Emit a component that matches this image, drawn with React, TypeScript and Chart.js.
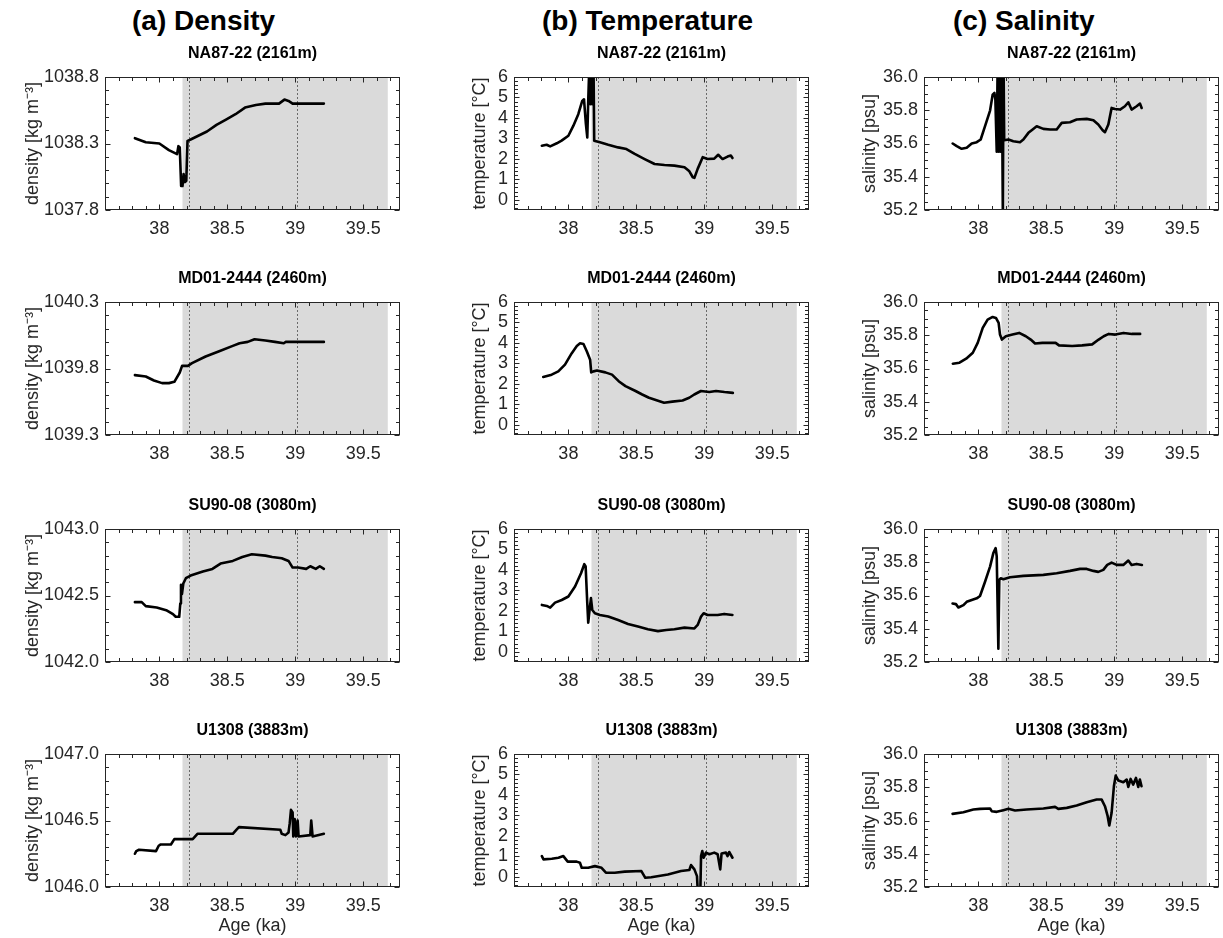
import React, { useEffect, useRef } from 'react';
import { Chart, registerables } from 'chart.js';

Chart.register(...registerables);

// ---------------- data ----------------
type Pt = [number, number];

const AGE_MIN = 37.6;
const AGE_MAX = 39.77;
const AGE_TICKS = [38, 38.5, 39, 39.5];
const SHADE_RANGE = [38.17, 39.68];
const EVENT_LINES = [38.22, 39.01];

const COLUMN_TITLES = ['(a) Density', '(b) Temperature', '(c) Salinity'];
const CORE_NAMES = ['NA87-22 (2161m)', 'MD01-2444 (2460m)', 'SU90-08 (3080m)', 'U1308 (3883m)'];

const DENSITY_TICKS = [
  [1037.8, 1038.3, 1038.8],
  [1039.3, 1039.8, 1040.3],
  [1042.0, 1042.5, 1043.0],
  [1046.0, 1046.5, 1047.0],
];
const TEMP_TICKS = [0, 1, 2, 3, 4, 5, 6];
const TEMP_RANGE = [-0.5, 6];
const SAL_TICKS = [35.2, 35.4, 35.6, 35.8, 36.0];

const naDensity: Pt[] = [
  [37.82, 1038.34], [37.9, 1038.31], [38.0, 1038.3], [38.07, 1038.25], [38.13, 1038.22],
  [38.14, 1038.28], [38.15, 1038.27], [38.16, 1037.98], [38.17, 1037.98], [38.178, 1038.07],
  [38.188, 1038.01], [38.198, 1038.02], [38.207, 1038.32], [38.23, 1038.33], [38.29, 1038.36],
  [38.35, 1038.39], [38.42, 1038.44], [38.49, 1038.48], [38.56, 1038.52], [38.63, 1038.57],
  [38.71, 1038.59], [38.78, 1038.6], [38.88, 1038.6], [38.92, 1038.63], [38.95, 1038.62],
  [38.98, 1038.6], [39.07, 1038.6], [39.21, 1038.6],
];
const mdDensity: Pt[] = [
  [37.82, 1039.75], [37.9, 1039.74], [37.96, 1039.71], [38.02, 1039.69], [38.07, 1039.69],
  [38.11, 1039.7], [38.15, 1039.77], [38.167, 1039.82], [38.18, 1039.82], [38.21, 1039.82],
  [38.24, 1039.84], [38.34, 1039.89], [38.44, 1039.93], [38.54, 1039.97], [38.59, 1039.99],
  [38.65, 1040.0], [38.7, 1040.02], [38.78, 1040.01], [38.85, 1040.0], [38.915, 1039.99],
  [38.93, 1040.0], [39.02, 1040.0], [39.21, 1040.0],
];
const suDensity: Pt[] = [
  [37.82, 1042.45], [37.87, 1042.45], [37.9, 1042.42], [37.98, 1042.41], [38.05, 1042.39],
  [38.1, 1042.36], [38.12, 1042.34], [38.146, 1042.34], [38.154, 1042.44], [38.159, 1042.58],
  [38.166, 1042.51], [38.176, 1042.59], [38.195, 1042.63], [38.23, 1042.65], [38.32, 1042.68],
  [38.39, 1042.7], [38.45, 1042.74], [38.54, 1042.76], [38.61, 1042.79], [38.68, 1042.81],
  [38.78, 1042.8], [38.83, 1042.79], [38.9, 1042.78], [38.95, 1042.76], [38.98, 1042.71],
  [39.02, 1042.71], [39.08, 1042.7], [39.11, 1042.72], [39.15, 1042.7], [39.18, 1042.72],
  [39.21, 1042.7],
];
const uDensity: Pt[] = [
  [37.82, 1046.25], [37.83, 1046.27], [37.85, 1046.28], [37.975, 1046.27], [37.995, 1046.31],
  [38.01, 1046.32], [38.085, 1046.32], [38.11, 1046.36], [38.2, 1046.36], [38.245, 1046.36],
  [38.28, 1046.4], [38.54, 1046.4], [38.566, 1046.43], [38.585, 1046.45], [38.89, 1046.43],
  [38.9, 1046.4], [38.927, 1046.39], [38.95, 1046.41], [38.959, 1046.48], [38.968, 1046.58],
  [38.98, 1046.56], [38.985, 1046.38], [38.995, 1046.51], [39.005, 1046.38], [39.017, 1046.5],
  [39.024, 1046.38], [39.11, 1046.39], [39.117, 1046.5], [39.127, 1046.38], [39.21, 1046.4],
];

const naTemp: Pt[] = [
  [37.805, 2.64], [37.84, 2.69], [37.866, 2.61], [37.915, 2.76], [37.95, 2.89], [38.0, 3.13],
  [38.037, 3.62], [38.073, 4.18], [38.102, 4.83], [38.115, 4.91], [38.129, 3.7], [38.139, 3.05],
  [38.146, 4.83], [38.154, 6.5], [38.163, 4.67], [38.171, 6.5], [38.178, 4.67], [38.185, 6.5],
  [38.19, 2.89], [38.195, 2.89], [38.232, 2.81], [38.293, 2.69], [38.366, 2.56], [38.427, 2.48],
  [38.488, 2.24], [38.561, 1.99], [38.634, 1.75], [38.707, 1.7], [38.78, 1.67], [38.854, 1.59],
  [38.89, 1.39], [38.915, 1.1], [38.927, 1.07], [38.951, 1.51], [38.988, 2.08], [39.024, 1.99],
  [39.073, 2.01], [39.102, 2.2], [39.134, 1.99], [39.171, 2.11], [39.195, 2.16], [39.207, 2.04],
];
const mdTemp: Pt[] = [
  [37.815, 2.34], [37.877, 2.45], [37.926, 2.61], [37.975, 2.94], [38.025, 3.5], [38.062, 3.85],
  [38.086, 3.98], [38.111, 3.95], [38.136, 3.58], [38.16, 3.18], [38.168, 2.56], [38.185, 2.61],
  [38.21, 2.65], [38.272, 2.56], [38.321, 2.45], [38.37, 2.13], [38.42, 1.89], [38.494, 1.65],
  [38.543, 1.48], [38.593, 1.32], [38.654, 1.19], [38.704, 1.08], [38.765, 1.13], [38.84, 1.19],
  [38.889, 1.32], [38.926, 1.48], [38.975, 1.65], [39.037, 1.6], [39.086, 1.65], [39.148, 1.6],
  [39.21, 1.56],
];
const suTemp: Pt[] = [
  [37.805, 2.29], [37.841, 2.24], [37.866, 2.16], [37.902, 2.4], [37.951, 2.53], [38.0, 2.7],
  [38.049, 3.19], [38.093, 3.84], [38.117, 4.28], [38.127, 4.17], [38.139, 2.37], [38.146, 1.42],
  [38.156, 2.04], [38.166, 2.62], [38.176, 2.04], [38.195, 1.88], [38.232, 1.8], [38.293, 1.72],
  [38.366, 1.55], [38.439, 1.36], [38.512, 1.23], [38.585, 1.1], [38.659, 1.01], [38.72, 1.06],
  [38.78, 1.1], [38.854, 1.18], [38.927, 1.14], [38.951, 1.31], [38.976, 1.72], [38.995, 1.88],
  [39.024, 1.8], [39.098, 1.8], [39.146, 1.85], [39.207, 1.8],
];
const uTemp: Pt[] = [
  [37.805, 1.01], [37.817, 0.85], [37.878, 0.88], [37.927, 0.93], [37.963, 1.01], [37.995, 0.74],
  [38.061, 0.74], [38.085, 0.69], [38.098, 0.44], [38.146, 0.44], [38.195, 0.52], [38.244, 0.44],
  [38.276, 0.2], [38.341, 0.2], [38.415, 0.25], [38.537, 0.28], [38.566, -0.05], [38.61, -0.02],
  [38.732, 0.11], [38.829, 0.28], [38.89, 0.33], [38.902, 0.57], [38.927, 0.36], [38.946, 0.03],
  [38.951, -0.6], [38.971, -0.6], [38.976, 1.01], [38.985, 1.26], [38.995, 0.93], [39.012, 1.18],
  [39.037, 1.1], [39.073, 1.18], [39.098, 1.1], [39.117, 0.36], [39.127, 1.14], [39.159, 1.18],
  [39.171, 1.01], [39.183, 1.21], [39.207, 0.93],
];

const naSal: Pt[] = [
  [37.811, 35.6], [37.841, 35.584], [37.877, 35.568], [37.914, 35.574], [37.951, 35.6],
  [37.988, 35.608], [38.017, 35.624], [38.049, 35.704], [38.086, 35.798], [38.105, 35.894],
  [38.118, 35.904], [38.125, 35.864], [38.135, 35.55], [38.142, 36.1], [38.15, 35.55],
  [38.157, 36.1], [38.165, 35.55], [38.172, 36.1], [38.18, 35.2], [38.185, 36.1], [38.19, 35.62],
  [38.221, 35.624], [38.257, 35.614], [38.306, 35.608], [38.331, 35.624], [38.368, 35.664],
  [38.392, 35.68], [38.429, 35.704], [38.478, 35.688], [38.527, 35.684], [38.576, 35.684],
  [38.613, 35.724], [38.674, 35.728], [38.723, 35.744], [38.797, 35.748], [38.846, 35.74],
  [38.882, 35.714], [38.914, 35.68], [38.931, 35.668], [38.956, 35.714], [38.98, 35.814],
  [39.005, 35.808], [39.042, 35.804], [39.078, 35.824], [39.103, 35.848], [39.127, 35.804],
  [39.164, 35.824], [39.189, 35.84], [39.201, 35.814],
];
const mdSal: Pt[] = [
  [37.812, 35.629], [37.861, 35.635], [37.91, 35.659], [37.959, 35.695], [37.995, 35.754],
  [38.032, 35.844], [38.068, 35.894], [38.105, 35.91], [38.129, 35.904], [38.149, 35.874],
  [38.159, 35.804], [38.173, 35.774], [38.202, 35.794], [38.251, 35.804], [38.3, 35.814],
  [38.349, 35.794], [38.385, 35.774], [38.417, 35.75], [38.471, 35.754], [38.568, 35.754],
  [38.593, 35.739], [38.69, 35.735], [38.763, 35.739], [38.837, 35.745], [38.885, 35.774],
  [38.922, 35.794], [38.959, 35.808], [39.007, 35.804], [39.068, 35.814], [39.129, 35.808],
  [39.19, 35.808],
];
const suSal: Pt[] = [
  [37.81, 35.552], [37.835, 35.548], [37.853, 35.528], [37.89, 35.542], [37.914, 35.562],
  [37.951, 35.573], [37.988, 35.583], [38.012, 35.597], [38.049, 35.683], [38.086, 35.774],
  [38.11, 35.855], [38.127, 35.885], [38.135, 35.835], [38.147, 35.28], [38.154, 35.694],
  [38.164, 35.704], [38.184, 35.698], [38.233, 35.71], [38.331, 35.718], [38.478, 35.724],
  [38.576, 35.734], [38.674, 35.748], [38.748, 35.76], [38.797, 35.76], [38.846, 35.748],
  [38.882, 35.742], [38.919, 35.754], [38.948, 35.784], [38.98, 35.798], [39.017, 35.784],
  [39.066, 35.784], [39.103, 35.81], [39.127, 35.784], [39.164, 35.79], [39.203, 35.784],
];
const uSal: Pt[] = [
  [37.81, 35.64], [37.89, 35.65], [37.963, 35.666], [38.012, 35.67], [38.086, 35.672],
  [38.098, 35.656], [38.135, 35.652], [38.184, 35.662], [38.221, 35.67], [38.27, 35.66],
  [38.355, 35.666], [38.478, 35.672], [38.564, 35.682], [38.588, 35.67], [38.65, 35.676],
  [38.723, 35.69], [38.797, 35.71], [38.87, 35.726], [38.907, 35.726], [38.931, 35.686],
  [38.951, 35.626], [38.963, 35.57], [38.98, 35.646], [38.997, 35.806], [39.01, 35.87],
  [39.03, 35.84], [39.066, 35.83], [39.091, 35.846], [39.103, 35.802], [39.12, 35.85],
  [39.139, 35.816], [39.159, 35.856], [39.176, 35.802], [39.188, 35.846], [39.2, 35.806],
];

const DENSITY_SERIES = [naDensity, mdDensity, suDensity, uDensity];
const TEMP_SERIES = [naTemp, mdTemp, suTemp, uTemp];
const SAL_SERIES = [naSal, mdSal, suSal, uSal];

// ---------------- layout & style ----------------
const FONT = '"Liberation Sans", Arial, Helvetica, sans-serif';
const AXIS_COLOR = '#262626';
const SHADE_COLOR = '#dadada';
const LAYOUT = {
  colLeft: [105, 514, 924],
  yAxisW: [83, 45, 65],
  plotW: 295,
  rowTop: [77, 302, 529, 754],
  plotH: 133,
  topPad: 40,
  rightPad: 8,
  headLeft: [132, 542, 953],
};

interface PanelSpec {
  key: string;
  col: number;
  row: number;
  title: string;
  data: Pt[];
  yMin: number;
  yMax: number;
  yTicks: number[];
  yMinor: number;
  decimals: number;
  yLabel: string;
}

const PANELS: PanelSpec[] = [];
for (let r = 0; r < 4; r++) {
  const dt = DENSITY_TICKS[r];
  PANELS.push({ key: `d${r}`, col: 0, row: r, title: CORE_NAMES[r], data: DENSITY_SERIES[r], yMin: dt[0], yMax: dt[dt.length - 1], yTicks: dt, yMinor: 0.1, decimals: 1, yLabel: 'density [kg m\u207B\u00B3]' });
  PANELS.push({ key: `t${r}`, col: 1, row: r, title: CORE_NAMES[r], data: TEMP_SERIES[r], yMin: TEMP_RANGE[0], yMax: TEMP_RANGE[1], yTicks: TEMP_TICKS, yMinor: 0.2, decimals: 0, yLabel: 'temperature [\u00B0C]' });
  PANELS.push({ key: `s${r}`, col: 2, row: r, title: CORE_NAMES[r], data: SAL_SERIES[r], yMin: SAL_TICKS[0], yMax: SAL_TICKS[SAL_TICKS.length - 1], yTicks: SAL_TICKS, yMinor: 0.05, decimals: 1, yLabel: 'salinity [psu]' });
}

function steps(min: number, max: number, step: number): number[] {
  const out: number[] = [];
  const n0 = Math.ceil(min / step - 1e-6);
  const n1 = Math.floor(max / step + 1e-6);
  for (let n = n0; n <= n1; n++) out.push(+(n * step).toFixed(6));
  return out;
}

function framePlugin(spec: PanelSpec) {
  return {
    id: 'frame_' + spec.key,
    beforeDatasetsDraw(chart: any) {
      const { ctx, chartArea: a, scales } = chart;
      const x = scales.x;
      ctx.save();
      ctx.fillStyle = SHADE_COLOR;
      const x0 = Math.max(a.left, x.getPixelForValue(SHADE_RANGE[0]));
      const x1 = Math.min(a.right, x.getPixelForValue(SHADE_RANGE[1]));
      ctx.fillRect(x0, a.top, x1 - x0, a.bottom - a.top);
      ctx.strokeStyle = '#6a6a6a';
      ctx.lineWidth = 1;
      ctx.setLineDash([2, 2]);
      for (const m of EVENT_LINES) {
        const px = Math.round(x.getPixelForValue(m)) + 0.5;
        ctx.beginPath();
        ctx.moveTo(px, a.top);
        ctx.lineTo(px, a.bottom);
        ctx.stroke();
      }
      ctx.restore();
    },
    afterDraw(chart: any) {
      const { ctx, chartArea: a, scales } = chart;
      const x = scales.x;
      const y = scales.y;
      ctx.save();
      ctx.strokeStyle = AXIS_COLOR;
      ctx.lineWidth = 1;
      const L = Math.round(a.left) + 0.5;
      const R = Math.round(a.right) - 0.5;
      const T = Math.round(a.top) + 0.5;
      const B = Math.round(a.bottom) - 0.5;
      ctx.beginPath();
      for (const v of steps(AGE_MIN, AGE_MAX, 0.1)) {
        const major = AGE_TICKS.some((t) => Math.abs(t - v) < 1e-6);
        const len = major ? 5 : 3.5;
        const px = Math.round(x.getPixelForValue(v)) + 0.5;
        ctx.moveTo(px, B); ctx.lineTo(px, B - len);
        ctx.moveTo(px, T); ctx.lineTo(px, T + len);
      }
      for (const v of steps(spec.yMin, spec.yMax, spec.yMinor)) {
        const major = spec.yTicks.some((t) => Math.abs(t - v) < 1e-6);
        const len = major ? 5 : 3.5;
        const py = Math.round(y.getPixelForValue(v)) + 0.5;
        ctx.moveTo(L, py); ctx.lineTo(L + len, py);
        ctx.moveTo(R, py); ctx.lineTo(R - len, py);
      }
      ctx.stroke();
      ctx.strokeRect(L, T, R - L, B - T);
      ctx.fillStyle = '#000';
      ctx.font = `bold 16px ${FONT}`;
      ctx.textAlign = 'center';
      ctx.textBaseline = 'middle';
      ctx.fillText(spec.title, (a.left + a.right) / 2, a.top - 23);
      ctx.restore();
    },
  };
}

function Panel({ spec }: { spec: PanelSpec }) {
  const ref = useRef<HTMLCanvasElement>(null);
  const isBottom = spec.row === 3;
  const xH = isBottom ? 50 : 30;
  const yW = LAYOUT.yAxisW[spec.col];
  const left = LAYOUT.colLeft[spec.col] - yW;
  const top = LAYOUT.rowTop[spec.row] - LAYOUT.topPad;
  const width = yW + LAYOUT.plotW + LAYOUT.rightPad;
  const height = LAYOUT.topPad + LAYOUT.plotH + xH;

  useEffect(() => {
    if (!ref.current) return;
    const tickFont = { family: FONT, size: 18 };
    const chart = new Chart(ref.current, {
      type: 'line',
      data: {
        datasets: [
          {
            data: spec.data.map(([ax, v]) => ({ x: ax, y: v })),
            borderColor: '#000',
            borderWidth: 2.6,
            pointRadius: 0,
            tension: 0,
            fill: false,
            clip: 0,
            borderJoinStyle: 'round',
            borderCapStyle: 'round',
          } as any,
        ],
      },
      options: {
        responsive: false,
        animation: false,
        events: [],
        layout: { padding: { left: 0, top: LAYOUT.topPad, right: LAYOUT.rightPad, bottom: 0 } },
        plugins: { legend: { display: false }, title: { display: false }, tooltip: { enabled: false } },
        scales: {
          x: {
            type: 'linear',
            min: AGE_MIN,
            max: AGE_MAX,
            grid: { display: false, drawTicks: false },
            border: { display: false },
            afterFit: (s: any) => { s.height = xH; },
            afterBuildTicks: (s: any) => { s.ticks = AGE_TICKS.map((v) => ({ value: v })); },
            ticks: {
              padding: 8,
              color: AXIS_COLOR,
              font: tickFont,
              maxRotation: 0,
              autoSkip: false,
              callback: (v: any) => String(v),
            },
            title: {
              display: isBottom,
              text: 'Age (ka)',
              color: AXIS_COLOR,
              font: tickFont,
              padding: { top: 0, bottom: 0 },
            },
          },
          y: {
            type: 'linear',
            min: spec.yMin,
            max: spec.yMax,
            grid: { display: false, drawTicks: false },
            border: { display: false },
            afterFit: (s: any) => { s.width = yW; },
            afterBuildTicks: (s: any) => { s.ticks = spec.yTicks.map((v) => ({ value: v })); },
            ticks: {
              padding: 6,
              color: AXIS_COLOR,
              font: tickFont,
              autoSkip: false,
              callback: (v: any) => Number(v).toFixed(spec.decimals),
            },
            title: {
              display: true,
              text: spec.yLabel,
              color: AXIS_COLOR,
              font: tickFont,
              padding: { top: 0, bottom: 0 },
            },
          },
        },
      } as any,
      plugins: [framePlugin(spec)],
    });
    return () => chart.destroy();
  }, []);

  return (
    <canvas
      ref={ref}
      width={width}
      height={height}
      style={{ position: 'absolute', left, top, width, height }}
    />
  );
}

export default function App() {
  return (
    <div style={{ position: 'absolute', left: 0, top: 0, width: 1223, height: 938, background: '#fff', overflow: 'hidden' }}>
      {COLUMN_TITLES.map((t, i) => (
        <div
          key={t}
          style={{
            position: 'absolute',
            left: LAYOUT.headLeft[i],
            top: 5,
            font: `bold 28px ${FONT}`,
            lineHeight: '32px',
            color: '#000',
            whiteSpace: 'nowrap',
          }}
        >
          {t}
        </div>
      ))}
      {PANELS.map((p) => (
        <Panel key={p.key} spec={p} />
      ))}
    </div>
  );
}
